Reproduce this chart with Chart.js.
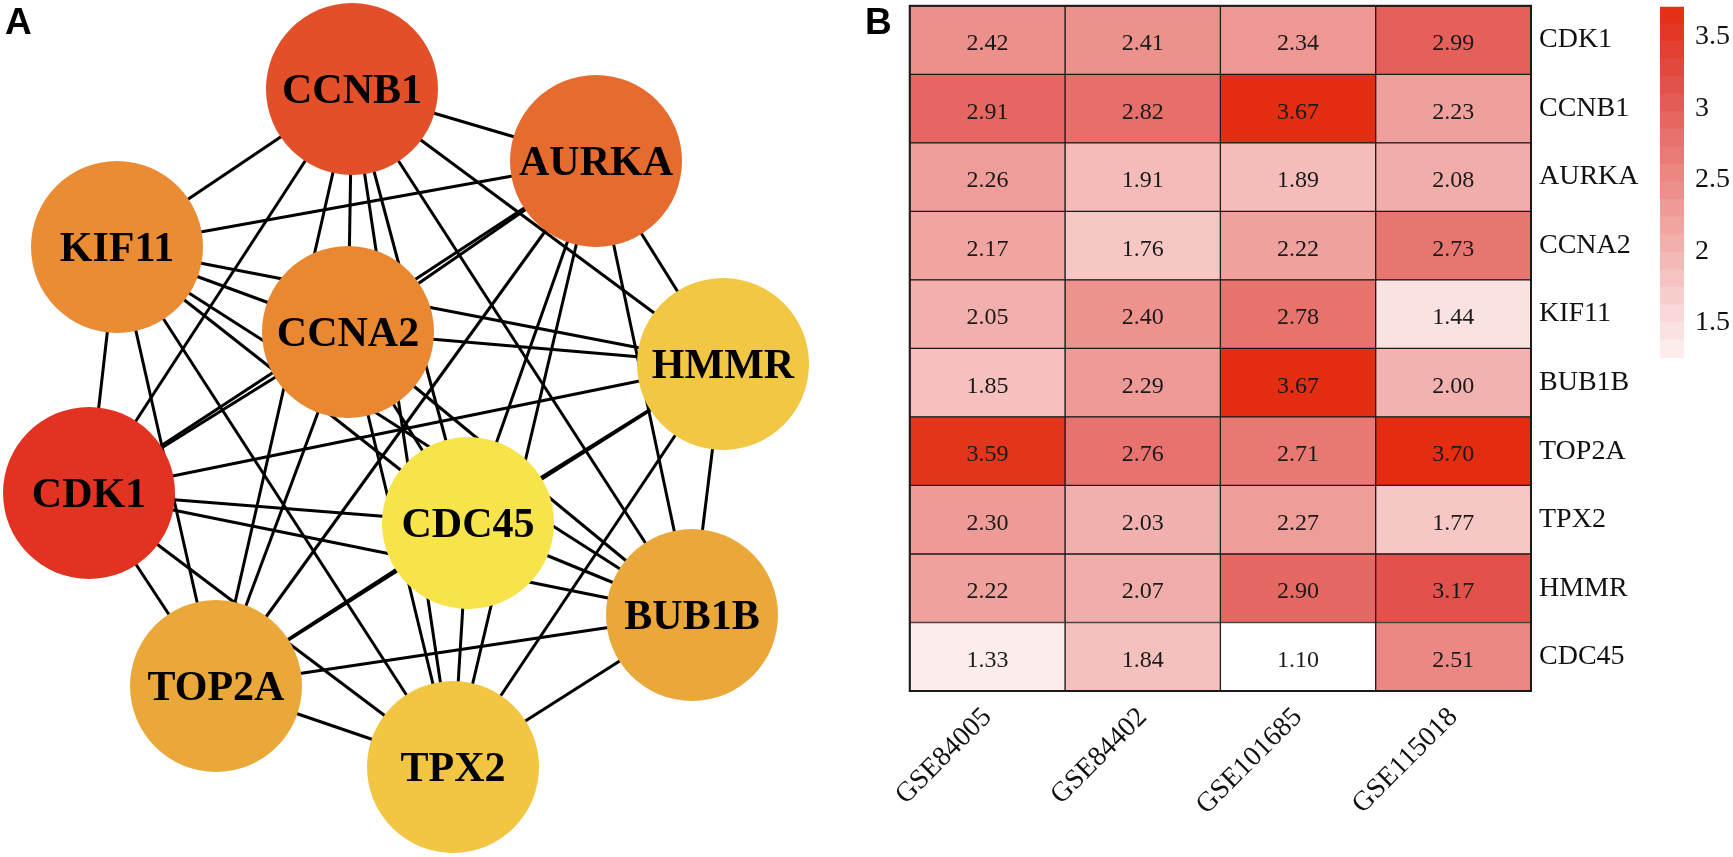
<!DOCTYPE html>
<html>
<head>
<meta charset="utf-8">
<script src="https://cdn.jsdelivr.net/npm/chart.js@4.4.1/dist/chart.umd.min.js"></script>
<style>
  body { margin:0; background:#fff; width:1733px; height:857px; position:relative; overflow:hidden; }
  canvas { position:absolute; }
  .tag { position:absolute; font:bold 37px "Liberation Sans", Arial, sans-serif; line-height:1; color:#000; }
</style>
</head>
<body>
<canvas id="net" width="850" height="857" style="left:0;top:0"></canvas>
<canvas id="heat" width="771" height="876" style="left:889px;top:-19px"></canvas>
<canvas id="bar" width="93" height="878" style="left:1640px;top:-21px"></canvas>
<div class="tag" style="left:5px;top:3px">A</div>
<div class="tag" style="left:865px;top:3px">B</div>
<script>
// ---- panel A : PPI network ----
var nodeNames = ['CDK1', 'CCNB1', 'AURKA', 'CCNA2', 'KIF11', 'BUB1B', 'TOP2A', 'TPX2', 'HMMR', 'CDC45'];
// layout of the network (x right, y down)
var nodeX = [89, 352, 596, 348, 117, 692, 216, 453, 723, 468];
var nodeY = [493, 89, 161, 332, 247, 615, 686, 767, 364, 523];
var nodeColors = ['#E23322', '#E24F28', '#E66B2E', '#EA8832', '#EA8C34', '#EBA83A', '#EBA83A', '#F2C543', '#F2C744', '#F7E34A'];
var edges = [
  ['CDK1','CCNB1'], ['CDK1','AURKA'], ['CDK1','CCNA2'], ['CDK1','KIF11'], ['CDK1','BUB1B'],
  ['CDK1','TOP2A'], ['CDK1','TPX2'], ['CDK1','HMMR'], ['CDK1','CDC45'],
  ['CCNB1','AURKA'], ['CCNB1','CCNA2'], ['CCNB1','KIF11'], ['CCNB1','BUB1B'], ['CCNB1','TOP2A'],
  ['CCNB1','TPX2'], ['CCNB1','HMMR'], ['CCNB1','CDC45'],
  ['AURKA','CCNA2'], ['AURKA','KIF11'], ['AURKA','BUB1B'], ['AURKA','TOP2A'], ['AURKA','TPX2'],
  ['AURKA','HMMR'], ['AURKA','CDC45'],
  ['CCNA2','KIF11'], ['CCNA2','BUB1B'], ['CCNA2','TOP2A'], ['CCNA2','TPX2'], ['CCNA2','HMMR'], ['CCNA2','CDC45'],
  ['KIF11','BUB1B'], ['KIF11','TOP2A'], ['KIF11','TPX2'], ['KIF11','HMMR'], ['KIF11','CDC45'],
  ['BUB1B','TOP2A'], ['BUB1B','TPX2'], ['BUB1B','HMMR'], ['BUB1B','CDC45'],
  ['TOP2A','TPX2'], ['TOP2A','HMMR'], ['TOP2A','CDC45'],
  ['TPX2','HMMR'], ['TPX2','CDC45'],
  ['HMMR','CDC45']
];

// ---- panel B : heatmap ----
var studies = ['GSE84005', 'GSE84402', 'GSE101685', 'GSE115018'];
var genes = ['CDK1', 'CCNB1', 'AURKA', 'CCNA2', 'KIF11', 'BUB1B', 'TOP2A', 'TPX2', 'HMMR', 'CDC45'];
var gse84005 = [2.42, 2.91, 2.26, 2.17, 2.05, 1.85, 3.59, 2.30, 2.22, 1.33];
var gse84402 = [2.41, 2.82, 1.91, 1.76, 2.40, 2.29, 2.76, 2.03, 2.07, 1.84];
var gse101685 = [2.34, 3.67, 1.89, 2.22, 2.78, 3.67, 2.71, 2.27, 2.90, 1.10];
var gse115018 = [2.99, 2.23, 2.08, 2.73, 1.44, 2.00, 3.70, 1.77, 3.17, 2.51];
var studyValues = [gse84005, gse84402, gse101685, gse115018];
var legendTicks = [1.5, 2, 2.5, 3, 3.5];

// colour scale
var colorMin = 1.10, colorMax = 3.70;
var colorStops = [[0, [255, 255, 255]], [0.8, [226, 80, 73]], [1, [227, 44, 16]]];
function heatColor(v) {
  var t = (v - colorMin) / (colorMax - colorMin);
  if (t < 0) t = 0;
  if (t > 1) t = 1;
  for (var k = 1; k < colorStops.length; k++) {
    if (t <= colorStops[k][0]) {
      var a = colorStops[k - 1], b = colorStops[k];
      var f = (t - a[0]) / (b[0] - a[0]);
      var c = [0, 1, 2].map(function (n) { return Math.round(a[1][n] + (b[1][n] - a[1][n]) * f); });
      return 'rgb(' + c.join(',') + ')';
    }
  }
  return 'rgb(227,44,16)';
}

var serif = 'Liberation Serif';

// network
var nodeLabels = {
  id: 'nodeLabels',
  afterDatasetsDraw: function (chart) {
    var ctx = chart.ctx;
    var meta = chart.getDatasetMeta(0);
    ctx.save();
    ctx.font = 'bold 42px "' + serif + '"';
    ctx.fillStyle = '#000';
    ctx.textAlign = 'center';
    ctx.textBaseline = 'alphabetic';
    meta.data.forEach(function (pt, i) {
      ctx.fillText(nodeNames[i], pt.x, pt.y + 14);
    });
    ctx.restore();
  }
};

var netSets = [{
  data: nodeNames.map(function (n, i) { return { x: nodeX[i], y: nodeY[i] }; }),
  pointRadius: 86,
  pointBackgroundColor: nodeColors,
  pointBorderWidth: 0,
  showLine: false,
  order: 0,
  clip: false
}];
edges.forEach(function (e) {
  var a = nodeNames.indexOf(e[0]), b = nodeNames.indexOf(e[1]);
  netSets.push({
    data: [{ x: nodeX[a], y: nodeY[a] }, { x: nodeX[b], y: nodeY[b] }],
    showLine: true,
    borderColor: '#000',
    borderWidth: 3,
    pointRadius: 0,
    order: 1,
    clip: false
  });
});

new Chart(document.getElementById('net'), {
  type: 'scatter',
  data: { datasets: netSets },
  options: {
    responsive: false,
    animation: false,
    events: [],
    layout: { padding: 0, autoPadding: false },
    plugins: { legend: { display: false }, tooltip: { enabled: false } },
    scales: {
      x: { type: 'linear', min: 0, max: 850, display: false },
      y: { type: 'linear', min: 0, max: 857, reverse: true, display: false }
    }
  },
  plugins: [nodeLabels]
});

// heatmap
var cellText = {
  id: 'cellText',
  afterDatasetsDraw: function (chart) {
    var ctx = chart.ctx;
    ctx.save();
    ctx.font = '24px "' + serif + '"';
    ctx.fillStyle = '#1a1a1a';
    ctx.textAlign = 'center';
    ctx.textBaseline = 'alphabetic';
    chart.data.datasets.forEach(function (ds, j) {
      chart.getDatasetMeta(j).data.forEach(function (bar, i) {
        ctx.fillText(studyValues[j][i].toFixed(2), (bar.x + bar.base) / 2, bar.y + 10);
      });
    });
    var a = chart.chartArea;
    ctx.lineWidth = 2;
    ctx.strokeStyle = '#1a1a1a';
    ctx.strokeRect(a.left, a.top, a.right - a.left, a.bottom - a.top);
    ctx.restore();
  }
};

new Chart(document.getElementById('heat'), {
  type: 'bar',
  data: {
    labels: genes,
    datasets: studies.map(function (s, j) {
      return {
        label: s,
        data: genes.map(function () { return [j, j + 1]; }),
        backgroundColor: studyValues[j].map(heatColor),
        borderColor: '#1a1a1a',
        borderWidth: 1,
        borderSkipped: false,
        barPercentage: 1,
        categoryPercentage: 1,
        grouped: false
      };
    })
  },
  options: {
    indexAxis: 'y',
    responsive: false,
    animation: false,
    events: [],
    layout: { padding: { left: 12, top: 6 } },
    plugins: { legend: { display: false }, tooltip: { enabled: false } },
    scales: {
      x: {
        type: 'linear', min: 0, max: 4,
        grid: { display: false, drawTicks: false },
        border: { display: false },
        afterBuildTicks: function (axis) {
          axis.ticks = studies.map(function (s, i) { return { value: i + 0.5 }; });
        },
        afterFit: function (axis) { axis.height = 166; },
        ticks: {
          autoSkip: false, minRotation: 45, maxRotation: 45, padding: 10,
          color: '#111', font: { family: serif, size: 28 },
          callback: function (v, i) { return studies[i]; }
        }
      },
      y: {
        position: 'right',
        grid: { display: false, drawTicks: false },
        border: { display: false },
        afterFit: function (axis) { axis.width = 129; },
        ticks: { padding: 8, color: '#111', font: { family: serif, size: 28 } }
      }
    }
  },
  plugins: [cellText]
});

// colour key
var legendMin = 1.255, legendMax = 3.71, legendBands = 20;
var legendStep = (legendMax - legendMin) / legendBands;
var legendSets = [];
for (var k = 0; k < legendBands; k++) {
  var lo = legendMin + k * legendStep;
  legendSets.push({
    data: [[lo, lo + legendStep + 0.004]],
    backgroundColor: heatColor(lo + legendStep / 2),
    borderWidth: 0,
    barPercentage: 1,
    categoryPercentage: 1,
    grouped: false
  });
}

new Chart(document.getElementById('bar'), {
  type: 'bar',
  data: { labels: [''], datasets: legendSets },
  options: {
    responsive: false,
    animation: false,
    events: [],
    layout: { padding: { left: 20, top: 7, bottom: 499 } },
    plugins: { legend: { display: false }, tooltip: { enabled: false } },
    scales: {
      x: { display: false },
      y: {
        position: 'right', min: legendMin, max: legendMax,
        grid: { display: false, drawTicks: false },
        border: { display: false },
        afterBuildTicks: function (axis) {
          axis.ticks = legendTicks.map(function (v) { return { value: v }; });
        },
        afterFit: function (axis) { axis.width = 49; },
        ticks: {
          padding: 11, color: '#111', font: { family: serif, size: 28 },
          callback: function (v) { return String(v); }
        }
      }
    }
  }
});
</script>
</body>
</html>
